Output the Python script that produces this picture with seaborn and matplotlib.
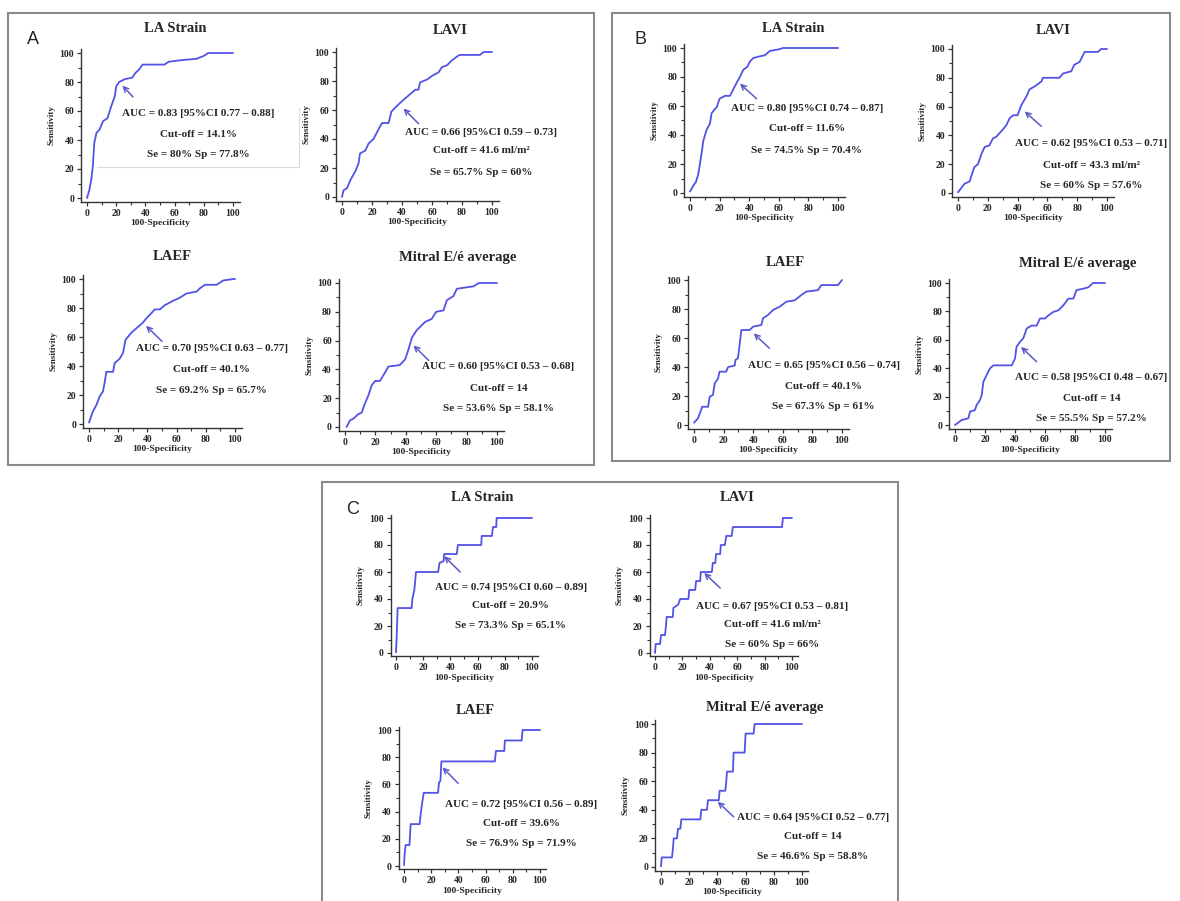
"""
ROC curves of LA strain, LAVI, LAEF and mitral E/e' in three cohorts (A, B, C)
"""

import matplotlib
matplotlib.use("Agg")
import matplotlib.pyplot as plt
from matplotlib.patches import Rectangle
from matplotlib.lines import Line2D
from matplotlib.ticker import MultipleLocator
import seaborn as sns
import pandas as pd

# ---- curve data (x = 100-Specificity, y = Sensitivity) ----
a_strain_x = [0, 1.5, 3, 4, 5, 6.5, 8.5, 11, 14, 16.5, 19, 20, 22, 26, 31, 33, 36, 38, 53, 56, 64, 75, 80, 83, 100]
a_strain_y = [0, 5, 13, 22, 38, 45, 47, 53, 55, 63, 70, 77, 80, 82, 83, 86, 89, 92, 92, 94, 95, 96, 98, 100, 100]

a_lavi_x = [0, 1, 3.3, 5.5, 9, 11, 12, 15.5, 17.8, 21, 24.5, 26.7, 31, 33, 37.8, 41, 45.5, 48.9, 51, 52, 56.7,
            60, 64.4, 66.7, 70, 73, 77.8, 79, 92, 94.4, 100]
a_lavi_y = [0, 4.6, 6, 11.5, 18, 23, 30, 32, 37, 40, 47, 51, 51, 59, 64, 67, 71, 74, 74, 79, 81,
            83.5, 86, 89.6, 90.8, 94, 97.7, 98, 98, 100, 100]

a_laef_x = [0, 2.7, 5, 7.3, 9.6, 10.8, 11.9, 16.5, 17.6, 21, 23.3, 25, 29, 33.6, 37, 39.4, 42.8, 45, 48.5, 52,
            57.7, 62, 66.8, 73.7, 76, 79.4, 87.4, 92, 99, 100]
a_laef_y = [1, 8.7, 13, 19, 22.5, 29, 36, 36, 42, 45, 49, 58, 63, 67, 70, 73, 76.5, 79, 79, 82,
            85, 87, 90, 91.3, 93.6, 96, 96, 99, 100, 100]

a_ee_x = [1, 3.3, 5.5, 8.8, 11, 13, 15.4, 17.6, 19.8, 23, 26.4, 28.6, 36, 39.6, 41.8, 44, 47, 52.7, 57, 60,
          64.8, 67, 71.4, 73.6, 80, 84.6, 88, 100]
a_ee_y = [0, 4.6, 5.8, 9, 10, 16, 22, 29, 32, 32, 38, 42, 43, 47, 54, 62, 67, 73, 75, 80,
          81, 88, 91, 96, 97, 97.7, 100, 100]

b_strain_x = [0, 2.2, 4, 5.6, 6.7, 7.9, 9, 11, 13.5, 14.6, 16.9, 18, 20, 23.6, 27, 29, 31.5, 33.7, 36, 38.7,
              40.4, 42.7, 46, 50.6, 54, 59.6, 63, 100]
b_strain_y = [1, 5, 7.6, 13, 20, 28, 36, 43, 48, 55, 58, 59, 65, 67, 67, 71, 76, 80, 85, 87,
              90.6, 93, 94, 95, 98, 99, 100, 100]

b_lavi_x = [0, 2.2, 4.5, 7.8, 9, 11, 13.4, 15.7, 17.9, 21, 23.5, 25.7, 30, 32.4, 34.7, 37, 40, 42.5, 45.9, 48,
            51.5, 56, 57, 68, 70.5, 76, 78, 81.6, 85, 94, 96, 100]
b_lavi_y = [0.5, 3.5, 6.5, 8, 12, 18, 20, 27, 32, 33, 38, 39, 44, 47, 52, 54, 54, 61, 67, 72,
            74, 77.5, 80, 80, 83, 84.5, 89, 91, 98, 98, 100, 100]

b_laef_x = [0, 2.7, 5.6, 9.5, 10.6, 12.8, 14, 16.2, 17.3, 21.8, 23, 27.5, 28, 29.7, 30.8, 32, 37.6, 39.9, 45.5,
            46.6, 50, 53.4, 57.9, 62.4, 68, 72.5, 75.9, 83.8, 86, 97.3, 100]
b_laef_y = [1.6, 4.6, 12.6, 12.6, 19.5, 20.7, 28.7, 32, 36.8, 36.8, 40, 41, 44.8, 46, 55, 65.5, 65.5, 67.8, 69,
            73.6, 75.9, 79.3, 81.6, 85, 86, 89.6, 92, 93, 96.5, 96.5, 100]

b_ee_x = [0, 4.4, 8.9, 10, 13.3, 14.4, 16.7, 17.8, 18.9, 21, 23.3, 25.5, 37.8, 40, 41, 43.3, 45.5, 47.8, 51,
          54.4, 56.7, 60, 62, 65.5, 69, 72, 75.6, 78.9, 81, 85.5, 89, 92, 100]
b_ee_y = [0, 3.5, 4.7, 9.4, 10.5, 14, 17.6, 21, 30.4, 35, 39.8, 42, 42, 46.8, 55, 58.5, 61, 68, 70,
          70, 75, 75, 77, 79.6, 80.8, 84, 89, 89, 95, 96, 97, 100, 100]

c_strain_x = [0, 0.5, 1.2, 11.5, 12, 13.5, 14.7, 31, 32, 35, 35.4, 44.7, 45.5, 62.7, 63, 70.5, 71.3, 73.7, 74, 100]
c_strain_y = [0.5, 12, 33.3, 33.3, 40, 46.7, 60, 60, 66.7, 68, 73.3, 73.3, 80, 80, 86.7, 86.7, 93.3, 93.3, 100, 100]

c_lavi_x = [0, 0.5, 3.7, 4.4, 7.3, 8, 8.5, 13, 13.4, 17, 18.3, 24.4, 25, 29.3, 30, 33, 33.4, 41.5, 42.2, 44,
            44.6, 47.6, 48, 51, 52, 56, 56.8, 92.7, 93.4, 100]
c_lavi_y = [0, 6.7, 6.7, 13.3, 13.3, 20, 26.7, 26.7, 33.3, 36, 40, 40, 46.7, 46.7, 53.3, 53.3, 60, 60, 66.7, 66.7,
            73.3, 73.3, 80, 80, 86.7, 86.7, 93.3, 93.3, 100, 100]

c_laef_x = [0, 0.5, 1.2, 4, 4.9, 11.5, 12.3, 13.3, 14.5, 25, 25.8, 26.8, 27.5, 66.8, 67.6, 73.7, 74.2, 86.5, 87.2, 100]
c_laef_y = [0.7, 9, 15.4, 15.4, 30.8, 30.8, 38.5, 46, 53.8, 53.8, 61.5, 62.7, 76.9, 76.9, 84.6, 84.6, 92.3, 92.3,
            100, 100]

c_ee_x = [0, 0.5, 7.8, 8.5, 9, 11.3, 12, 13.7, 14.4, 27.9, 28.6, 32.6, 33.3, 41, 41.6, 45.6, 46.3, 46.8, 51,
          51.5, 59.3, 60, 65.7, 66.4, 100]
c_ee_y = [0.5, 6.7, 6.7, 13.3, 20, 20, 26.7, 26.7, 33.3, 33.3, 40, 40, 46.7, 46.7, 53.3, 53.3, 60, 66.7, 66.7,
          80, 80, 93.3, 93.3, 100, 100]

panel_names = ["A", "B", "C"]
plot_titles = ["LA Strain", "LAVI", "LAEF", "Mitral E/é average"]

auc_lines = [
    "AUC = 0.83 [95%CI 0.77 – 0.88]", "AUC = 0.66 [95%CI 0.59 – 0.73]",
    "AUC = 0.70 [95%CI 0.63 – 0.77]", "AUC = 0.60 [95%CI 0.53 – 0.68]",
    "AUC = 0.80 [95%CI 0.74 – 0.87]", "AUC = 0.62 [95%CI 0.53 – 0.71]",
    "AUC = 0.65 [95%CI 0.56 – 0.74]", "AUC = 0.58 [95%CI 0.48 – 0.67]",
    "AUC = 0.74 [95%CI 0.60 – 0.89]", "AUC = 0.67 [95%CI 0.53 – 0.81]",
    "AUC = 0.72 [95%CI 0.56 – 0.89]", "AUC = 0.64 [95%CI 0.52 – 0.77]",
]
cutoff_lines = [
    "Cut-off = 14.1%", "Cut-off = 41.6 ml/m²", "Cut-off = 40.1%", "Cut-off = 14",
    "Cut-off = 11.6%", "Cut-off = 43.3 ml/m²", "Cut-off = 40.1%", "Cut-off = 14",
    "Cut-off = 20.9%", "Cut-off = 41.6 ml/m²", "Cut-off = 39.6%", "Cut-off = 14",
]
sesp_lines = [
    "Se = 80% Sp = 77.8%", "Se = 65.7% Sp = 60%", "Se = 69.2% Sp = 65.7%", "Se = 53.6% Sp = 58.1%",
    "Se = 74.5% Sp = 70.4%", "Se = 60% Sp = 57.6%", "Se = 67.3% Sp = 61%", "Se = 55.5% Sp = 57.2%",
    "Se = 73.3% Sp = 65.1%", "Se = 60% Sp = 66%", "Se = 76.9% Sp = 71.9%", "Se = 46.6% Sp = 58.8%",
]

curves = [
    (a_strain_x, a_strain_y), (a_lavi_x, a_lavi_y), (a_laef_x, a_laef_y), (a_ee_x, a_ee_y),
    (b_strain_x, b_strain_y), (b_lavi_x, b_lavi_y), (b_laef_x, b_laef_y), (b_ee_x, b_ee_y),
    (c_strain_x, c_strain_y), (c_lavi_x, c_lavi_y), (c_laef_x, c_laef_y), (c_ee_x, c_ee_y),
]

# ---- layout (pixels on a 1180x901 canvas) ----
W, H = 1180, 901
# data 0 / 100 positions: (x0, x100, y100, y0)
axes_px = [
    (87, 233, 53, 198), (342, 492, 52, 197), (89, 235, 279, 424), (345, 497, 283, 427),
    (690, 838, 48, 193), (958, 1107, 49, 193), (694, 842, 280, 425), (955, 1105, 283, 425),
    (396, 532, 518, 653), (655, 792, 518, 653), (404, 540, 730, 866), (661, 802, 724, 867),
]
title_px = [
    (175, 28), (450, 30), (172, 257), (458, 257),
    (793, 28), (1053, 30), (785, 263), (1078, 263),
    (482, 497), (737, 497), (475, 710), (765, 707),
]
# arrow tip, arrow tail, text centre x, text line y's (data units)
notes = [
    ((24.2, 77.5), (31.5, 69.7), 76, (58.6, 43.7, 29.9)),
    ((41, 61), (51, 50.6), 92.7, (44.8, 32.2, 17.2)),
    ((39, 67.7), (50, 57), 84, (51.8, 37.4, 22.9)),
    ((45, 56.7), (55, 46.3), 101, (41.7, 26.6, 12.7)),
    ((33.7, 75.4), (45, 65), 79, (58, 44.4, 29.4)),
    ((44.7, 56.7), (55.9, 46.3), 89.5, (34.3, 19.2, 5.3)),
    ((40.3, 63.2), (51, 52.9), 87.6, (40.9, 26.4, 12.6)),
    ((44, 55), (54.4, 44.5), 91, (33.5, 18.7, 4.7)),
    ((35.4, 71.7), (47.2, 60), 84.5, (48.4, 34.9, 20.6)),
    ((35.9, 59.3), (47.6, 48.1), 85.6, (34.6, 21, 6.2)),
    ((28.3, 72.5), (39.8, 60.8), 86, (44.9, 30.9, 16.7)),
    ((40.2, 45.7), (51.5, 35.1), 107.6, (34.7, 21, 7.5)),
]
boxes_px = [(8, 13, 594, 465), (612, 13, 1170, 461), (322, 482, 898, 905)]
letters_px = [(33, 40), (640, 40), (353, 510)]

CURVE_COLOR = "#5252e6"
ARROW_COLOR = "#5a5ac8"
XPAD_LO, XPAD_HI, YPAD_LO, YPAD_HI = 4, 4.5, 2.5, 2.5

sns.set_style("ticks")
plt.rcParams["font.family"] = ["Liberation Serif", "DejaVu Serif"]
plt.rcParams["font.weight"] = "bold"

fig = plt.figure(figsize=(W / 100, H / 100), dpi=100)

for (bx0, by0, bx1, by1) in boxes_px:
    fig.patches.append(Rectangle((bx0 / W, 1 - by1 / H), (bx1 - bx0) / W, (by1 - by0) / H,
                                 transform=fig.transFigure, fill=False,
                                 edgecolor="#8a8a8a", linewidth=1.5))

# faint leftover frame around the first annotation in panel A
fig.lines.append(Line2D([97 / W, 299 / W, 299 / W], [1 - 167 / H, 1 - 167 / H, 1 - 108 / H],
                        transform=fig.transFigure, color="#dcdcdc", linewidth=0.8))

for letter, (lx, ly) in zip(panel_names, letters_px):
    fig.text(lx / W, 1 - ly / H, letter, ha="center", va="center", fontsize=13,
             family=["Liberation Sans", "DejaVu Sans"], fontweight="normal")

for i, ((cx, cy), (x0, x1, y1, y0)) in enumerate(zip(curves, axes_px)):
    sx = (x1 - x0) / 100
    sy = (y0 - y1) / 100
    left = (x0 - XPAD_LO * sx) / W
    bottom = 1 - (y0 + YPAD_LO * sy) / H
    ax = fig.add_axes([left, bottom, (100 + XPAD_LO + XPAD_HI) * sx / W,
                       (100 + YPAD_LO + YPAD_HI) * sy / H])

    df = pd.DataFrame({"spec": cx, "sens": cy})
    sns.lineplot(data=df, x="spec", y="sens", ax=ax, sort=False, estimator=None,
                 color=CURVE_COLOR, linewidth=1.3)

    ax.set_xlim(-XPAD_LO, 100 + XPAD_HI)
    ax.set_ylim(-YPAD_LO, 100 + YPAD_HI)
    ax.xaxis.set_major_locator(MultipleLocator(20))
    ax.yaxis.set_major_locator(MultipleLocator(20))
    ax.xaxis.set_minor_locator(MultipleLocator(10))
    ax.yaxis.set_minor_locator(MultipleLocator(10))
    ax.tick_params(which="major", length=3, width=0.9, labelsize=7, pad=2, color="#333333")
    ax.tick_params(which="minor", length=2, width=0.8, color="#333333")
    for lab in ax.get_xticklabels() + ax.get_yticklabels():
        lab.set_fontweight("bold")
    for side in ("left", "bottom"):
        ax.spines[side].set_linewidth(1.0)
        ax.spines[side].set_color("#333333")
    sns.despine(ax=ax)
    ax.set_xlabel("100-Specificity", fontsize=6.8, fontweight="bold", labelpad=1)
    ax.set_ylabel("Sensitivity", fontsize=6.5, fontweight="bold", labelpad=3)
    ax.patch.set_alpha(0)

    tip, tail, tx, tys = notes[i]
    ax.annotate("", xy=tip, xytext=tail,
                arrowprops=dict(arrowstyle="->", color=ARROW_COLOR, lw=1.1,
                                shrinkA=0, shrinkB=0, mutation_scale=9))
    for text, ty in zip((auc_lines[i], cutoff_lines[i], sesp_lines[i]), tys):
        ax.text(tx, ty, text, ha="center", va="center", fontsize=8,
                fontweight="bold", clip_on=False)

    tpx, tpy = title_px[i]
    fig.text(tpx / W, 1 - tpy / H, plot_titles[i % 4], ha="center", va="center",
             fontsize=10.5, fontweight="bold")

fig.savefig("out.png", dpi=100)
